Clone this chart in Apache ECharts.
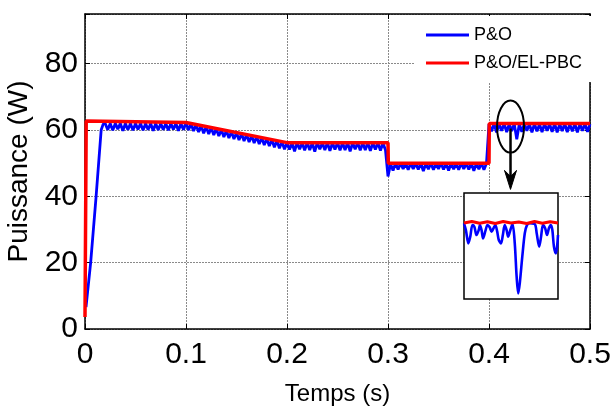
<!DOCTYPE html>
<html><head><meta charset="utf-8">
<script src="https://cdn.jsdelivr.net/npm/echarts@6/dist/echarts.min.js"></script>
<style>html,body{margin:0;padding:0;background:#fff}#c{width:611px;height:414px}</style>
</head><body><div id="c"></div>
<script>
// ---- data ----
const xTicks = [0, 0.1, 0.2, 0.3, 0.4, 0.5];
const yTicks = [0, 20, 40, 60, 80];
const seriesNames = ['P&O', 'P&O/EL-PBC'];

// P&O start-up ramp [time, power]
const blueRise = [[0.001, 6.6], [0.0056, 20], [0.011, 40], [0.016, 60], [0.018, 61.8]];
// P&O sampled every 0.0025 s, per segment
const SAMPLE_STEP = 0.0025;
const blueSeg1Start = 0.02;
const blueSeg1 = [62.0,60.1,62.0,59.9,62.0,60.3,62.0,59.8,62.0,60.1,62.0,59.9,62.0,60.2,62.0,59.9,
                  62.0,60.1,62.0,59.8,62.0,60.0,62.0,60.1,62.0,59.9,62.0,60.2,62.0,59.8,62.0,60.1];
const blueSeg2Start = 0.1;
const blueSeg2 = [62.2,60.0,61.9,59.7,61.6,59.4,61.3,59.0,61.0,58.8,60.7,58.5,60.4,58.2,60.1,57.9,
                  59.8,57.6,59.5,57.3,59.2,57.0,58.9,56.7,58.6,56.4,58.3,56.1,58.0,55.8,57.7,55.5,
                  57.4,55.2,57.1,54.8,56.8,54.5,56.5,54.2];
const blueSeg3Start = 0.2;
const blueSeg3 = [56.2,54.1,56.1,53.6,56.2,54.2,56.1,53.9,56.2,54.0,56.1,53.5,56.2,54.2,56.1,54.0,
                  56.2,53.7,56.1,54.1,56.2,53.9,56.1,54.0,56.2,53.6,56.1,54.2,56.2,53.9,56.1,54.0,
                  56.2,53.7,56.1,54.1,56.2,53.8,56.1,54.0];
const blueSeg4Start = 0.3;
const blueSeg4 = [46.0,49.8,47.8,50.0,48.1,50.0,48.3,49.9,48.0,50.0,48.3,49.9,48.1,50.0,47.6,49.9,
                  48.2,50.0,48.0,49.9,48.3,50.0,48.1,49.9,47.8,50.0,48.2,49.9,48.0,50.0,48.3,49.9,
                  48.1,50.0,47.7,49.9,48.2,50.0,48.0,49.9];
const blueSeg5Start = 0.4;
const blueSeg5 = [61.8,59.6,61.9,59.3,61.8,59.8,61.9,59.4,61.8,59.7,61.9,57.2,61.8,59.5,61.9,59.8,
                  61.8,59.3,61.9,59.6,61.8,59.4,61.9,59.8,61.8,59.5,61.9,59.3,61.8,59.7,61.9,59.4,
                  61.8,59.6,61.9,59.3,61.8,59.8,61.9,59.5,61.8];

// P&O/EL-PBC
const redTime  = [0, 0.0012, 0.003, 0.1, 0.2, 0.3, 0.3003, 0.4, 0.4003, 0.5];
const redPower = [3.6, 62.7, 62.3, 62.3, 56.2, 56.2, 50.0, 50.0, 62.0, 62.0];

// zoomed inset (t = 0.41 .. 0.44 s)
const insetBlueTime = [0.4100,0.4106,0.4114,0.4120,0.4127,0.4133,0.4140,0.4147,0.4151,0.4156,0.4161,0.4169,
  0.4175,0.4182,0.4188,0.4194,0.4200,0.4206,0.4211,0.4218,0.4224,0.4230,0.4236,0.4241,0.4248,0.4255,
  0.4262,0.4268,0.4273,0.4278,0.4286,0.4294,0.4301,0.4310,0.4326,0.4332,0.4340,0.4346,0.4352,0.4359,
  0.4365,0.4371,0.4377,0.4382,0.4387,0.4393,0.4397,0.4400];
const insetBluePower = [62.07,61.53,60.46,61.0,61.93,61.80,61.13,61.53,61.93,61.53,60.86,61.53,
  61.93,61.75,61.40,61.67,61.93,61.40,60.73,60.46,61.13,61.93,61.53,61.0,61.53,62.01,
  60.46,57.79,56.45,57.26,59.39,61.27,61.93,62.07,62.01,61.27,60.20,61.0,61.93,61.67,
  61.13,61.67,61.93,61.53,60.20,59.66,60.20,61.13];
const insetRedTime  = [0.410,0.4125,0.415,0.4175,0.420,0.4225,0.425,0.4275,0.430,0.4325,0.435,0.4375,0.440];
const insetRedPower = [62.10,62.22,62.08,62.20,62.06,62.22,62.10,62.18,62.06,62.22,62.08,62.20,62.10];

// ---- build series data ----
function seg(start, vals) { return vals.map((v, i) => [+(start + i * SAMPLE_STEP).toFixed(5), v]); }
const blueData = [].concat(blueRise, seg(blueSeg1Start, blueSeg1), seg(blueSeg2Start, blueSeg2),
  seg(blueSeg3Start, blueSeg3), seg(blueSeg4Start, blueSeg4), seg(blueSeg5Start, blueSeg5));
const redData = redTime.map((t, i) => [t, redPower[i]]);
const insetBlue = insetBlueTime.map((t, i) => [t, insetBluePower[i]]);
const insetRed = insetRedTime.map((t, i) => [t, insetRedPower[i]]);

const FONT = "'Liberation Sans',Arial,sans-serif";
const gridLine = { show: true, lineStyle: { color: '#8a8a8a', width: 1, type: [2, 1] } };
const blackLine = { show: true, onZero: false, lineStyle: { color: '#000', width: 1.5 } };
const tickIn = { show: true, inside: true, length: 5, lineStyle: { color: '#000', width: 1 } };

const chart = echarts.init(document.getElementById('c'), null, { renderer: 'canvas' });
chart.setOption({
  animation: false,
  backgroundColor: '#fff',
  grid: [
    { left: 85, right: 21, top: 14, bottom: 85, show: false, outerBoundsMode: 'none', containLabel: false },
    { left: 464, top: 193, width: 94, height: 106, show: true, backgroundColor: '#fff',
      borderColor: '#000', borderWidth: 1.5, z: 6, outerBoundsMode: 'none' }
  ],
  legend: {
    data: seriesNames, orient: 'vertical', left: 415, top: 16,
    backgroundColor: '#fff', padding: [10, 10, 10, 11], itemGap: 10,
    itemWidth: 43, itemHeight: 3, icon: 'rect',
    textStyle: { fontFamily: FONT, fontSize: 18, color: '#000' },
    z: 5
  },
  xAxis: [
    { type: 'value', gridIndex: 0, min: 0, max: 0.5, interval: 0.1, position: 'bottom',
      name: 'Temps (s)', nameLocation: 'middle', nameGap: 53,
      nameTextStyle: { fontFamily: FONT, fontSize: 24, color: '#000' },
      axisLine: blackLine, axisTick: tickIn, splitLine: gridLine,
      axisLabel: { fontFamily: FONT, fontSize: 30, color: '#000', margin: 11 } },
    { type: 'value', gridIndex: 0, min: 0, max: 0.5, interval: 0.1, position: 'top',
      axisLine: blackLine, axisTick: tickIn, splitLine: { show: false }, axisLabel: { show: false } },
    { type: 'value', gridIndex: 1, min: 0.41, max: 0.44, show: false }
  ],
  yAxis: [
    { type: 'value', gridIndex: 0, min: 0, max: 95, interval: 20, position: 'left',
      name: 'Puissance (W)', nameLocation: 'middle', nameGap: 50, nameRotate: 90,
      nameTextStyle: { fontFamily: FONT, fontSize: 28, color: '#000' },
      axisLine: blackLine, axisTick: tickIn, splitLine: gridLine,
      axisLabel: { fontFamily: FONT, fontSize: 30, color: '#000', margin: 7,
        formatter: v => (yTicks.indexOf(v) >= 0 ? String(v) : '') } },
    { type: 'value', gridIndex: 0, min: 0, max: 95, interval: 20, position: 'right',
      axisLine: blackLine, axisTick: tickIn, splitLine: { show: false }, axisLabel: { show: false } },
    { type: 'value', gridIndex: 1, min: 56, max: 64.5, show: false }
  ],
  series: [
    { name: seriesNames[0], type: 'line', xAxisIndex: 0, yAxisIndex: 0, data: blueData,
      showSymbol: false, lineStyle: { color: '#0000ff', width: 2.8 }, itemStyle: { color: '#0000ff' }, z: 2 },
    { name: seriesNames[1], type: 'line', xAxisIndex: 0, yAxisIndex: 0, data: redData,
      showSymbol: false, lineStyle: { color: '#ff0000', width: 3.5 }, itemStyle: { color: '#ff0000' }, z: 3 },
    { name: 'inset-P&O', type: 'line', xAxisIndex: 2, yAxisIndex: 2, data: insetBlue,
      showSymbol: false, smooth: 0.3, lineStyle: { color: '#0000ff', width: 2.6 }, z: 8 },
    { name: 'inset-EL-PBC', type: 'line', xAxisIndex: 2, yAxisIndex: 2, data: insetRed,
      showSymbol: false, lineStyle: { color: '#ff0000', width: 3 }, z: 9 }
  ]
});

// annotation: ellipse + arrow anchored to data coordinates
const ctr = chart.convertToPixel({ gridIndex: 0 }, [0.4213, 61.05]);
const tip = chart.convertToPixel({ gridIndex: 0 }, [0.4213, 42.1]);
chart.setOption({
  graphic: [
    { type: 'ellipse', shape: { cx: ctr[0], cy: ctr[1], rx: 13.5, ry: 26 },
      style: { fill: null, stroke: '#000', lineWidth: 2 }, z: 20 },
    { type: 'line', shape: { x1: ctr[0], y1: ctr[1] + 2, x2: ctr[0], y2: tip[1] - 10 },
      style: { stroke: '#000', lineWidth: 2.5 }, z: 20 },
    { type: 'polygon', shape: { points: [[ctr[0] - 6, tip[1] - 19], [ctr[0], tip[1]], [ctr[0] + 6, tip[1] - 19], [ctr[0], tip[1] - 13]] },
      style: { fill: '#000', stroke: '#000', lineWidth: 1 }, z: 20 }
  ]
});
</script></body></html>
